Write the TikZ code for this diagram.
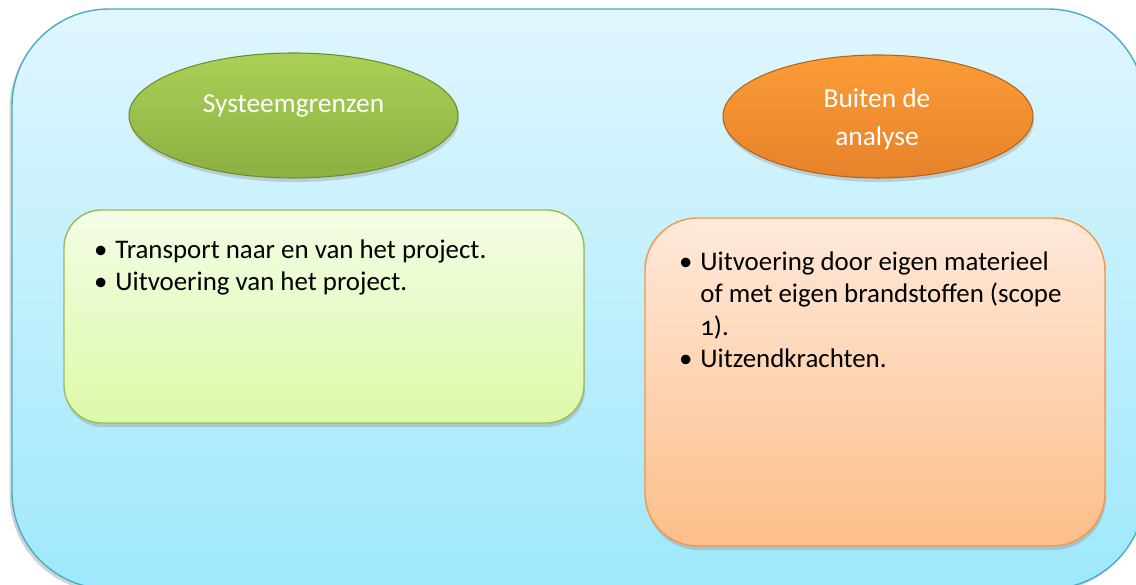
\documentclass[tikz,border=0pt]{standalone}
\usepackage{fontspec}
\setmainfont{Carlito}
\usetikzlibrary{shapes.geometric,shadows}

\definecolor{frametop}{RGB}{224,246,254}
\definecolor{framebot}{RGB}{159,232,252}
\definecolor{frameline}{RGB}{75,172,198}
\definecolor{greentop}{RGB}{170,208,86}
\definecolor{greenbot}{RGB}{140,176,66}
\definecolor{greenline}{RGB}{110,140,45}
\definecolor{orangetop}{RGB}{252,156,54}
\definecolor{orangebot}{RGB}{230,130,42}
\definecolor{orangeline}{RGB}{180,98,28}
\definecolor{gboxtop}{RGB}{244,253,230}
\definecolor{gboxbot}{RGB}{220,249,168}
\definecolor{gboxline}{RGB}{155,187,89}
\definecolor{oboxtop}{RGB}{254,233,218}
\definecolor{oboxbot}{RGB}{253,190,138}
\definecolor{oboxline}{RGB}{247,150,70}

\begin{document}
\begin{tikzpicture}[
    frame/.style={rectangle, rounded corners=1.94cm, draw=frameline, line width=0.8pt,
        top color=frametop, bottom color=framebot, minimum width=22.66cm, minimum height=11.6cm,
        drop shadow={opacity=0.35, shadow xshift=-0.05cm, shadow yshift=-0.06cm}},
    bubble/.style={ellipse, line width=0.6pt, inner sep=0pt,
        drop shadow={opacity=0.3, shadow xshift=0.02cm, shadow yshift=-0.08cm}},
    elltext/.style={text=white, anchor=base, inner sep=0pt, font=\fontsize{15.6}{21.6}\selectfont},
    listbox/.style={rectangle, line width=0.8pt, inner sep=0pt,
        drop shadow={opacity=0.3, shadow xshift=0.02cm, shadow yshift=-0.08cm}},
    itemtext/.style={anchor=north west, inner sep=0pt, align=left, font=\fontsize{15.3}{18.5}\selectfont}
]
    \useasboundingbox (0,0) rectangle (22.72,11.7);
    \clip (0,0) rectangle (22.72,11.7);

    % outer frame
    \node[frame] (frame) at (11.57,5.72) {};

    % Systeemgrenzen
    \begin{scope}
        \node[bubble, draw=greenline, top color=greentop, bottom color=greenbot,
            minimum width=6.58cm, minimum height=2.5cm] (sysell) at (5.87,9.39) {};
        \node[elltext] (systxt) at (5.87,9.44) {Systeemgrenzen};
        \node[listbox, draw=gboxline, top color=gboxtop, bottom color=gboxbot, rounded corners=0.75cm,
            minimum width=10.4cm, minimum height=4.26cm] (sysbox) at (6.48,5.37) {};
        \node[itemtext] (sysitems) at (2.30,7.00)
            {\strut\llap{•\hspace{4.5pt}}Transport naar en van het project.\\
             \strut\llap{•\hspace{4.5pt}}Uitvoering van het project.};
    \end{scope}

    % Buiten de analyse
    \begin{scope}
        \node[bubble, draw=orangeline, top color=orangetop, bottom color=orangebot,
            minimum width=6.2cm, minimum height=2.46cm] (outell) at (17.56,9.37) {};
        \node[elltext, anchor=north, align=center] (outtxt) at (17.54,10.09)
            {\strut Buiten de\\ \strut analyse};
        \node[listbox, draw=oboxline, top color=oboxtop, bottom color=oboxbot, rounded corners=1.05cm,
            minimum width=9.2cm, minimum height=6.56cm] (outbox) at (17.5,4.06) {};
        \node[itemtext] (outitems) at (14.0,6.757)
            {\strut\llap{•\hspace{4.5pt}}Uitvoering door eigen materieel\\
             \strut of met eigen brandstoffen (scope\\
             \strut{\addfontfeatures{Numbers=OldStyle}1}).\\
             \strut\llap{•\hspace{4.5pt}}Uitzendkrachten.};
    \end{scope}

\end{tikzpicture}
\end{document}
